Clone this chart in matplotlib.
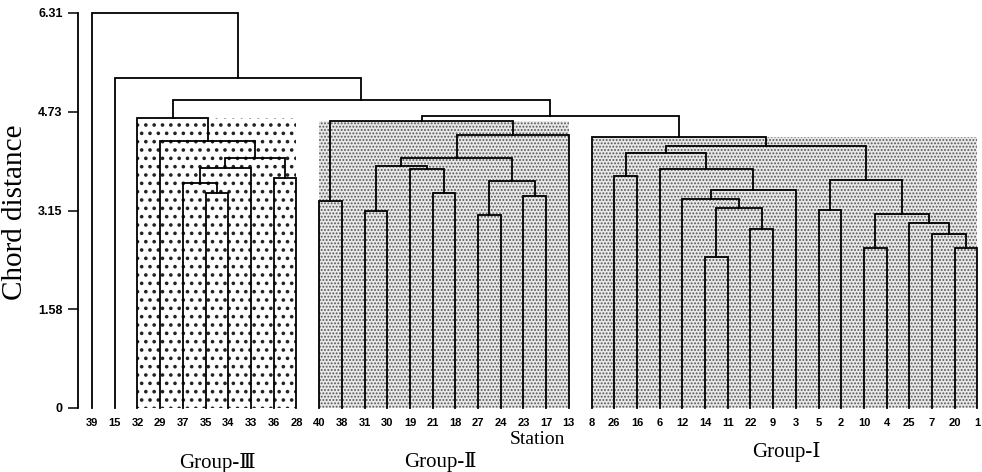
import matplotlib
matplotlib.use("Agg")
import matplotlib.pyplot as plt
from matplotlib.patches import Rectangle

# station order along the bottom
leaves = [39, 15, 32, 29, 37, 35, 34, 33, 36, 28,
          40, 38, 31, 30, 19, 21, 18, 27, 24, 23, 17, 13,
          8, 26, 16, 6, 12, 14, 11, 22, 9, 3, 5, 2, 10, 4, 25, 7, 20, 1]

# links: (name, left, right, chord distance); ints are stations
links_g3 = [("g3_a", 35, 34, 3.44), ("g3_b", 37, "g3_a", 3.60),
            ("g3_c", "g3_b", 33, 3.84), ("g3_d", 36, 28, 3.67),
            ("g3_e", "g3_c", "g3_d", 3.99), ("g3_f", 29, "g3_e", 4.26),
            ("G3", 32, "g3_f", 4.63)]
links_g2 = [("g2_a", 40, 38, 3.31), ("g2_b", 31, 30, 3.15),
            ("g2_c", 21, 18, 3.44), ("g2_d", 19, "g2_c", 3.81),
            ("g2_e", "g2_b", "g2_d", 3.86), ("g2_f", 27, 24, 3.09),
            ("g2_g", 23, 17, 3.39), ("g2_h", "g2_f", "g2_g", 3.63),
            ("g2_i", "g2_e", "g2_h", 3.99), ("g2_j", "g2_i", 13, 4.36),
            ("G2", "g2_a", "g2_j", 4.58)]
links_g1 = [("g1_a", 26, 16, 3.71), ("g1_b", 14, 11, 2.42),
            ("g1_c", 22, 9, 2.86), ("g1_d", "g1_b", "g1_c", 3.20),
            ("g1_e", 12, "g1_d", 3.34), ("g1_f", "g1_e", 3, 3.49),
            ("g1_g", 6, "g1_f", 3.81), ("g1_h", "g1_a", "g1_g", 4.07),
            ("g1_i", 5, 2, 3.17), ("g1_j", 20, 1, 2.55),
            ("g1_k", 7, "g1_j", 2.78), ("g1_l", 25, "g1_k", 2.96),
            ("g1_m", 10, 4, 2.55), ("g1_n", "g1_m", "g1_l", 3.10),
            ("g1_o", "g1_i", "g1_n", 3.65), ("g1_p", "g1_h", "g1_o", 4.18),
            ("G1", 8, "g1_p", 4.33)]
links_top = [("t_a", "G2", "G1", 4.67), ("t_b", "G3", "t_a", 4.92),
             ("t_c", 15, "t_b", 5.27), ("root", 39, "t_c", 6.31)]

# groups: name, first station, last station, label
groups = [("G3", 32, 28, "Group-Ⅲ"), ("G2", 40, 13, "Group-Ⅱ"), ("G1", 8, 1, "Group-Ⅰ")]
yticks = [0, 1.58, 3.15, 4.73, 6.31]

W, H = 982, 472
fig = plt.figure(figsize=(W / 100, H / 100), dpi=100)
ax = fig.add_axes([78 / W, (H - 408) / H, 1 - 78 / W, (408 - 13) / H])

xpos = {s: i for i, s in enumerate(leaves)}
ypos = {s: 0.0 for s in leaves}

# shaded group boxes (drawn first, lines go on top)
all_links = links_g3 + links_g2 + links_g1 + links_top
heights = {name: h for name, l, r, h in all_links}
for name, first, last, lab in groups:
    x0, x1 = xpos[first], xpos[last]
    if name == "G3":
        rect = Rectangle((x0, 0), x1 - x0, heights[name], facecolor="white",
                         edgecolor="#222222", hatch="..", linewidth=0)
        hlw = 1.4
    else:
        rect = Rectangle((x0, 0), x1 - x0, heights[name], facecolor="#e8e8e8",
                         edgecolor="#555555", hatch=".....", linewidth=0)
        hlw = 0.9
    if hasattr(rect, "set_hatch_linewidth"):
        rect.set_hatch_linewidth(hlw)
    ax.add_patch(rect)

for name, l, r, h in all_links:
    xl, xr = xpos[l], xpos[r]
    ax.plot([xl, xl, xr, xr], [ypos[l], h, h, ypos[r]], color="black",
            lw=1.3, clip_on=False, solid_joinstyle="miter")
    xpos[name] = (xl + xr) / 2
    ypos[name] = h

ax.set_xlim(-0.62, 39.2)
ax.set_ylim(0, 6.31)
for side in ["top", "right", "bottom"]:
    ax.spines[side].set_visible(False)
ax.spines["left"].set_linewidth(1.3)
ax.set_yticks(yticks)
ax.set_yticklabels(["0", "1.58", "3.15", "4.73", "6.31"],
                   fontfamily="Liberation Sans", fontweight="bold", fontsize=9)
ax.tick_params(axis="y", length=7, width=1.1, pad=4)
ax.set_xticks(range(len(leaves)))
ax.set_xticklabels([str(s) for s in leaves], fontfamily="Liberation Sans",
                   fontweight="bold", fontsize=8)
ax.tick_params(axis="x", length=0, pad=7)
ax.set_facecolor("none")

serif = ["Liberation Serif", "DejaVu Serif"]
fig.text(15 / W, 1 - 212 / H, "Chord distance", rotation=90, ha="center", va="center",
         family=serif, fontsize=21)
fig.text(537 / W, 1 - 440 / H, "Station", ha="center", va="center", family=serif, fontsize=14)
label_xy = {"G3": (217, 463), "G2": (440, 462), "G1": (786, 452)}
for name, first, last, lab in groups:
    px, py = label_xy[name]
    fig.text(px / W, 1 - py / H, lab, ha="center", va="center", family=serif, fontsize=15)

fig.savefig("out.png", dpi=100)
